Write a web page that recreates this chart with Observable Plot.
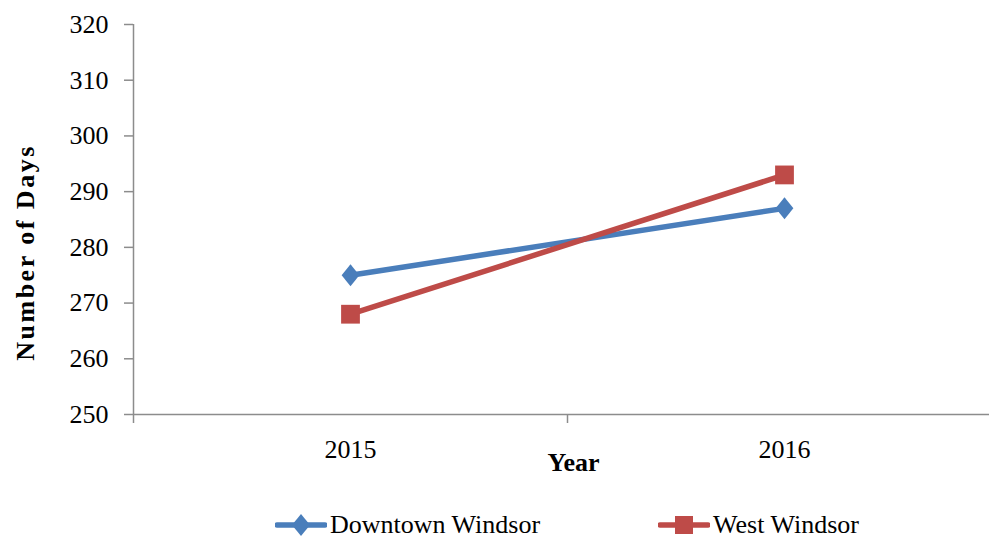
<!DOCTYPE html>
<html>
<head>
<meta charset="utf-8">
<script src="https://cdn.jsdelivr.net/npm/d3@7"></script>
<script src="https://cdn.jsdelivr.net/npm/@observablehq/plot@0.6"></script>
<style>
  html, body { margin: 0; padding: 0; background: #fff; }
  body { width: 989px; height: 540px; overflow: hidden; font-family: "Liberation Serif", serif; }
  #legend { display: flex; justify-content: center; gap: 118px; margin-left: 133px; width: 868px; margin-top: 30px; font-size: 26px; line-height: 30px; color: #000; }
  .item { display: flex; align-items: center; white-space: nowrap; }
  .item svg { margin-right: 3px; }
</style>
</head>
<body>
<div id="chart"></div>
<div id="legend"></div>
<script>
const years = [2015, 2016];
const downtown = [275, 287];
const west = [268, 293];
const yTicks = [250, 260, 270, 280, 290, 300, 310, 320];
const seriesNames = ["Downtown Windsor", "West Windsor"];
const colors = ["#4A7EBB", "#BE4B48"];

const data = [
  ...years.map((yr, i) => ({year: yr, value: downtown[i], series: seriesNames[0]})),
  ...years.map((yr, i) => ({year: yr, value: west[i], series: seriesNames[1]}))
];
const boundaries = [years[0] - 0.5, (years[0] + years[1]) / 2, years[1] + 0.5];

const diamond = {
  draw(ctx, size) {
    const s = Math.sqrt(size);
    const w = s * 0.5, h = s * 0.62;
    ctx.moveTo(0, -h); ctx.lineTo(w, 0); ctx.lineTo(0, h); ctx.lineTo(-w, 0); ctx.closePath();
  }
};

const axisColor = "#8c8c8c";

const chart = Plot.plot({
  width: 989,
  height: 480,
  marginLeft: 133,
  marginRight: -12,
  marginTop: 24,
  marginBottom: 66,
  style: {fontFamily: "Liberation Serif, serif", fontSize: "26px", color: "#000", background: "#fff"},
  x: {type: "linear", domain: [boundaries[0], boundaries[2]]},
  y: {domain: [250, 320]},
  color: {domain: seriesNames, range: colors},
  marks: [
    Plot.ruleY([250], {stroke: axisColor, strokeWidth: 1.5}),
    Plot.ruleX([boundaries[0]], {stroke: axisColor, strokeWidth: 1.5}),
    Plot.axisY({ticks: yTicks, tickSize: 9, tickPadding: 16, label: null, stroke: axisColor, strokeWidth: 1.5, fill: "#000", fontSize: 26}),
    Plot.axisX({ticks: boundaries, tickSize: 9, tickFormat: () => "", label: null, stroke: axisColor, strokeWidth: 1.5}),
    Plot.axisX({ticks: years, tickSize: 0, tickPadding: 25, tickFormat: d => String(d), label: null, fill: "#000", fontSize: 26}),
    Plot.text(["Year"], {frameAnchor: "bottom", dx: 6, dy: 56, fontWeight: "bold", fontSize: 26, fill: "#000"}),
    Plot.text(["Number of Days"], {frameAnchor: "left", textAnchor: "middle", rotate: -90, dx: -108, dy: 33, fontWeight: "bold", fontSize: 26, fill: "#000"}),
    Plot.line(data, {x: "year", y: "value", z: "series", stroke: "series", strokeWidth: 5.5}),
    Plot.dot(data.filter(d => d.series === seriesNames[0]), {x: "year", y: "value", fill: colors[0], r: 10, symbol: diamond}),
    Plot.dot(data.filter(d => d.series === seriesNames[1]), {x: "year", y: "value", fill: colors[1], r: 10.6, symbol: "square"})
  ]
});
d3.select(chart).selectAll("text")
  .filter(function() { return this.textContent === "Number of Days"; })
  .style("letter-spacing", "2.5px");
document.getElementById("chart").appendChild(chart);

// legend
const legend = d3.select("#legend");
seriesNames.forEach((name, i) => {
  const item = legend.append("div").attr("class", "item");
  const svg = item.append("svg").attr("width", 52).attr("height", 26);
  svg.append("line").attr("x1", 2).attr("x2", 50).attr("y1", 13).attr("y2", 13)
    .attr("stroke", colors[i]).attr("stroke-width", 5.5).attr("stroke-linecap", "round");
  if (i === 0) {
    svg.append("path").attr("d", "M26,2 L35,13 L26,24 L17,13 Z").attr("fill", colors[i]);
  } else {
    svg.append("rect").attr("x", 17).attr("y", 4).attr("width", 18).attr("height", 18).attr("fill", colors[i]);
  }
  item.append("span").text(name);
});
</script>
</body>
</html>
